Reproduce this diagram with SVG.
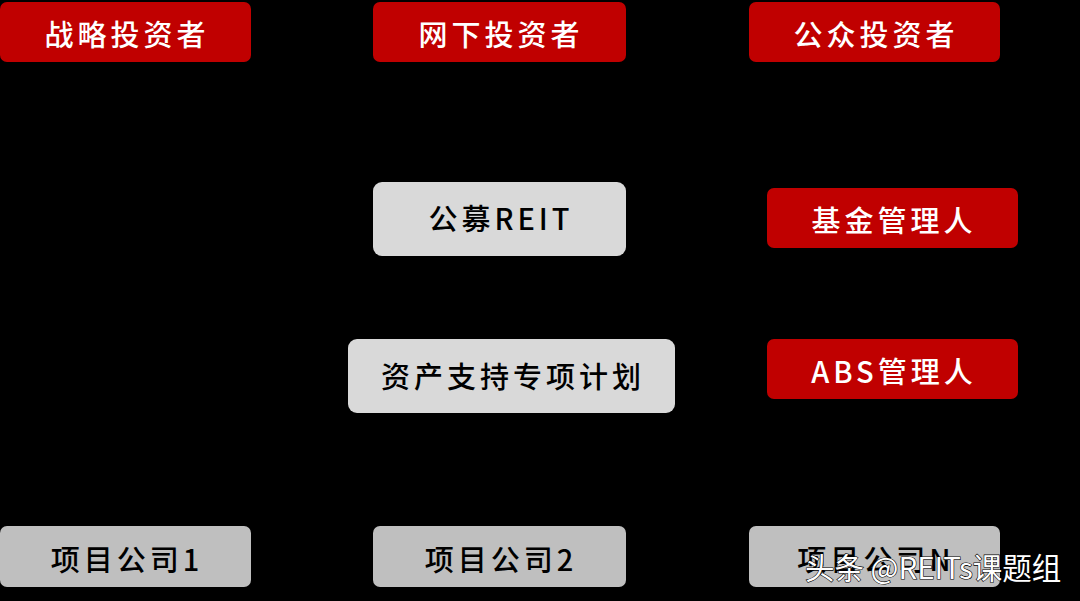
<svg xmlns="http://www.w3.org/2000/svg" width="1080" height="601" viewBox="0 0 1080 601">
<style>
.red{fill:#c00000}
.gray{fill:#d9d9d9}
.dgray{fill:#bfbfbf}
.t{font-family:"Noto Sans CJK SC","Noto Sans",sans-serif;font-size:29px;font-weight:500;text-anchor:middle;dominant-baseline:central;letter-spacing:4px}
.w{fill:#ffffff}
.k{fill:#000000}
.c{stroke:#000000;stroke-width:1.5;fill:none}
.wm{font-family:"Noto Sans CJK SC","Liberation Sans",sans-serif;font-size:29.5px;fill:#ffffff;stroke:#000000;stroke-width:1.2;paint-order:stroke}
</style>
<rect width="1080" height="601" fill="#000000"/>
<g id="connectors">
<path class="c" d="M125 62V120H875V62M500 62V182M500 256V339M500 413V470H125V526M500 470V526M875 470V526M767 218H626M767 369H675"/>
</g>
<g id="n1"><rect class="red" x="0" y="2" width="251" height="60" rx="7"/><text class="t w" x="127" y="33">战略投资者</text></g>
<g id="n2"><rect class="red" x="373" y="2" width="253" height="60" rx="7"/><text class="t w" x="501" y="33">网下投资者</text></g>
<g id="n3"><rect class="red" x="749" y="2" width="251" height="60" rx="7"/><text class="t w" x="876" y="33">公众投资者</text></g>
<g id="n4"><rect class="gray" x="373" y="182" width="253" height="74" rx="9"/><text class="t k" x="501" y="217">公募REIT</text></g>
<g id="n5"><rect class="red" x="767" y="188" width="251" height="60" rx="7"/><text class="t w" x="894" y="219">基金管理人</text></g>
<g id="n6"><rect class="gray" x="348" y="339" width="327" height="74" rx="9"/><text class="t k" x="513" y="375">资产支持专项计划</text></g>
<g id="n7"><rect class="red" x="767" y="339" width="251" height="60" rx="7"/><text class="t w" x="894" y="370">ABS管理人</text></g>
<g id="n8"><rect class="dgray" x="0" y="526" width="251" height="61" rx="7"/><text class="t k" x="127" y="558">项目公司1</text></g>
<g id="n9"><rect class="dgray" x="373" y="526" width="253" height="61" rx="7"/><text class="t k" x="501" y="558">项目公司2</text></g>
<g id="n10"><rect class="dgray" x="749" y="526" width="251" height="61" rx="7"/><text class="t k" x="876" y="558">项目公司N</text></g>
<text class="wm" x="805" y="579">头条 @REITs课题组</text>
</svg>
